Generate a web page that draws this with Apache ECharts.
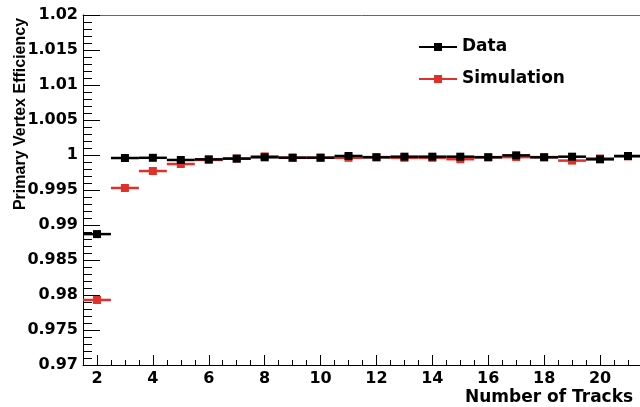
<!DOCTYPE html>
<html>
<head>
<meta charset="utf-8">
<script src="https://cdn.jsdelivr.net/npm/echarts@6/dist/echarts.min.js"></script>
<style>
html,body{margin:0;padding:0;background:#fff;}
#main{width:640px;height:407px;}
</style>
</head>
<body>
<div id="main"></div>
<script>
// number of tracks (bin centres)
var xTracks = [2,3,4,5,6,7,8,9,10,11,12,13,14,15,16,17,18,19,20,21];
// primary vertex efficiency
var dataEff = [0.9887,0.99957,0.9996,0.99929,0.99938,0.99948,0.99967,0.99962,0.99962,0.99986,
               0.99967,0.99976,0.99976,0.99976,0.99967,0.99995,0.99967,0.99976,0.99938,0.99986];
var simEff  = [0.97929,0.99529,0.99771,0.99871,0.9993,0.9995,0.9998,0.9996,0.9996,0.9996,
               0.9997,0.9996,0.9996,0.9994,0.9997,0.9997,0.9997,0.9992,0.9995,0.9998];
var xMajorTicks = [2,4,6,8,10,12,14,16,18,20];

var FONT = 'DejaVu Sans';

function toPairs(ys){
	var out=[];
	for(var i=0;i<xTracks.length;i++){
		out.push([xTracks[i], ys[i]]);
	}
	return out;
}

function renderPoint(color){
	return function(params, api){
		var x = api.value(0), y = api.value(1);
		var l = api.coord([x-0.5, y]);
		var r = api.coord([x+0.5, y]);
		var c = api.coord([x, y]);
		return {
			type: 'group',
			children: [
				{type:'line', shape:{x1:l[0], y1:l[1], x2:r[0], y2:r[1]}, style:{stroke:color, lineWidth:2.5}},
				{type:'rect', shape:{x:c[0]-4, y:c[1]-4, width:8, height:8}, style:{fill:color}}
			]
		};
	};
}

// minor ticks of the x axis every 0.5
var xMinor = [];
for(var t=1.5;t<=21.5;t+=0.5){
	if(t%2!==0) xMinor.push(t);
}

var myChart = echarts.init(document.getElementById('main'));
var option = {
	backgroundColor: '#fff',
	animation: false,
	grid: {
		left: 83, top: 15, bottom: 42, right: 0,
		show: false
	},
	legend: {
		orient: 'vertical',
		left: 414, top: 33,
		itemWidth: 38, itemHeight: 8,
		itemGap: 14,
		icon: 'path://M0,3L38,3L38,5L0,5Z M15,0L23,0L23,8L15,8Z',
		data: ['Data','Simulation'],
		textStyle: {fontFamily: FONT, fontWeight: 'bold', fontSize: 17, color: '#000', lineHeight: 18}
	},
	xAxis: [{
		type: 'value',
		min: 1.5, max: 21.43,
		axisLine: {show: true, lineStyle: {color: '#000', width: 1}},
		axisTick: {show: true, inside: true, length: 10, customValues: xMajorTicks, lineStyle: {color: '#000'}},
		axisLabel: {customValues: xMajorTicks, fontFamily: FONT, fontWeight: 'bold', fontSize: 16, color: '#000', margin: 6},
		splitLine: {show: false}
	},{
		type: 'value',
		min: 1.5, max: 21.43,
		position: 'bottom',
		axisLine: {show: false},
		axisTick: {show: true, inside: true, length: 5, customValues: xMinor, lineStyle: {color: '#000'}},
		axisLabel: {show: false},
		splitLine: {show: false}
	},{
		// top frame line
		type: 'value',
		min: 1.5, max: 21.43,
		position: 'top',
		axisLine: {show: true, lineStyle: {color: '#666', width: 1}},
		axisTick: {show: false},
		axisLabel: {show: false},
		splitLine: {show: false}
	}],
	yAxis: {
		type: 'value',
		min: 0.97, max: 1.02, interval: 0.005,
		axisLine: {show: true, lineStyle: {color: '#000', width: 1}},
		axisTick: {show: true, inside: true, length: 17, lineStyle: {color: '#000'}},
		minorTick: {show: true, splitNumber: 5, length: 9, lineStyle: {color: '#000'}},
		axisLabel: {
			fontFamily: FONT, fontWeight: 'bold', fontSize: 16, color: '#000', margin: 5,
			formatter: function(v){ return String(parseFloat(v.toFixed(3))); }
		},
		splitLine: {show: false}
	},
	graphic: [
		{type:'text', x: 21, y: 114, rotation: Math.PI/2,
		 style:{text:'Primary Vertex Efficiency', fontFamily:'Liberation Sans', fontWeight:'bold', fontSize:16, fill:'#000', align:'center', verticalAlign:'middle'}},
		{type:'text', x: 465, y: 398,
		 style:{text:'Number of Tracks', fontFamily: FONT, fontWeight:'bold', fontSize:17, fill:'#000', align:'left', verticalAlign:'middle'}}
	],
	series: [
		{name:'Simulation', type:'custom', color:'#e0302a', itemStyle:{color:'#e0302a'},
		 renderItem: renderPoint('#e0302a'), encode:{x:0, y:1}, data: toPairs(simEff)},
		{name:'Data', type:'custom', color:'#000', itemStyle:{color:'#000'},
		 renderItem: renderPoint('#000'), encode:{x:0, y:1}, data: toPairs(dataEff)}
	]
};
myChart.setOption(option,true);
</script>
</body>
</html>
